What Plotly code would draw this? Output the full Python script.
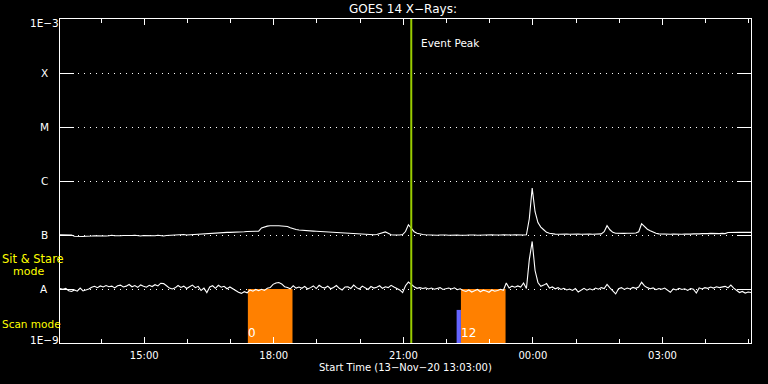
import math
import pandas as pd
import plotly.graph_objects as go

# ---------------- data ----------------
START = "2020-11-13 13:03"
END = "2020-11-14 05:03"

# GOES 1-8 A channel, units of 1e-8 W/m^2, 4-minute cadence from START
long_channel = [
    10.1, 10.1, 10.0, 10.1, 10.0, 9.5, 9.4, 9.3, 9.4, 9.5,
    9.4, 9.6, 9.7, 9.6, 9.8, 9.7, 9.6, 9.7, 9.9, 9.7,
    9.6, 9.7, 9.8, 9.7, 9.6, 9.8, 9.9, 9.7, 9.6, 9.8,
    9.7, 9.8, 9.6, 9.7, 9.9, 9.7, 9.6, 9.8, 9.9, 10.0,
    10.1, 10.0, 10.1, 10.2, 10.0, 10.1, 10.2, 10.1, 10.3, 10.4,
    10.6, 10.6, 10.7, 10.8, 10.9, 11.0, 11.1, 11.1, 11.2, 11.2,
    11.2, 11.3, 11.4, 11.5, 11.5, 11.6, 11.6, 11.7, 11.7, 11.8,
    13.5, 14.2, 14.6, 14.8, 14.9, 14.9, 14.8, 14.7, 14.6, 14.4,
    13.6, 12.9, 12.6, 12.4, 12.2, 12.1, 12.0, 11.9, 11.8, 11.7,
    11.6, 11.5, 11.4, 11.3, 11.2, 11.2, 11.1, 11.0, 10.9, 10.8,
    10.7, 10.6, 10.6, 10.5, 10.4, 10.3, 10.2, 10.2, 10.1, 10.1,
    10.2, 10.6, 11.2, 11.4, 10.8, 10.1, 10.0, 9.9, 10.0, 10.2,
    11.6, 15.5, 13.0, 11.5, 10.8, 10.4, 10.2, 10.1, 10.0, 10.1,
    10.0, 9.9, 10.0, 10.1, 10.0, 9.9, 10.0, 10.1, 10.0, 9.9,
    9.8, 9.9, 10.0, 10.1, 10.0, 9.9, 10.0, 10.1, 10.0, 10.0,
    10.1, 10.0, 9.9, 10.0, 10.1, 10.0, 9.9, 10.0, 10.1, 10.0,
    9.9, 10.0, 10.1, 20.0, 74.0, 27.0, 17.0, 14.0, 12.5, 11.2,
    10.8, 10.5, 10.4, 10.3, 10.4, 10.5, 10.4, 10.3, 10.4, 10.5,
    10.4, 10.3, 10.4, 10.5, 10.4, 10.3, 10.4, 10.4, 10.5, 11.5,
    14.9, 12.5, 11.2, 10.8, 10.7, 10.8, 10.7, 10.8, 10.7, 10.8,
    10.9, 11.5, 16.2, 14.5, 12.8, 12.0, 11.2, 10.8, 10.5, 10.4,
    10.3, 10.4, 10.3, 10.4, 10.3, 10.2, 10.3, 10.4, 10.3, 10.4,
    10.5, 10.4, 10.5, 10.6, 10.5, 10.6, 10.7, 10.6, 10.7, 10.6,
    10.7, 10.6, 11.1, 11.2, 11.2, 11.1, 11.2, 11.2, 11.1, 11.2,
    11.2,
]

# GOES 0.5-4 A channel, units of 1e-9 W/m^2, same cadence
short_channel = [
    10.2, 9.9, 10.3, 9.3, 9.0, 9.6, 9.1, 10.4, 9.2, 9.5,
    10.0, 10.8, 11.2, 10.6, 11.4, 10.9, 11.6, 11.0, 11.3, 10.5,
    11.5, 11.8, 10.9, 11.3, 12.1, 11.0, 11.6, 10.7, 11.9, 11.2,
    10.8, 11.7, 11.1, 12.0, 11.4, 12.8, 12.6, 11.5, 10.4, 10.0,
    10.5, 11.6, 10.7, 11.3, 10.2, 11.0, 11.8, 10.6, 11.2, 9.4,
    10.4, 8.6, 10.9, 11.5, 10.3, 11.7, 10.8, 11.2, 10.1, 10.9,
    10.0, 9.2, 8.7, 8.3, 8.9, 8.5, 9.6, 9.1, 9.8, 9.3,
    9.9, 9.4, 10.3, 10.6, 12.2, 12.9, 13.2, 12.4, 11.0, 10.7,
    10.1, 11.5, 10.4, 10.9, 10.3, 11.2, 10.0, 10.6, 11.4, 10.2,
    11.7, 10.8, 10.4, 11.3, 10.1, 10.7, 11.6, 10.3, 9.6, 10.9,
    11.0, 10.2, 11.8, 10.6, 10.0, 11.3, 10.5, 9.8, 11.1, 10.4,
    10.8, 11.5, 10.3, 11.0, 10.6, 11.7, 10.9, 10.2, 9.6, 8.6,
    11.5, 13.4, 12.0, 11.0, 10.3, 10.6, 10.2, 10.5, 10.0, 10.4,
    9.9, 10.3, 10.6, 9.8, 10.2, 10.4, 10.0, 10.5, 9.7, 10.1,
    9.4, 9.0, 9.6, 8.8, 9.3, 9.8, 8.9, 9.5, 9.2, 8.7,
    9.6, 9.1, 9.4, 9.9, 9.5, 12.9, 10.4, 11.3, 10.8, 11.4,
    10.9, 12.9, 10.2, 35.0, 76.0, 22.0, 13.2, 11.2, 11.8, 12.6,
    10.4, 10.9, 10.1, 10.6, 9.8, 10.3, 9.6, 10.0, 9.4, 10.2,
    8.8, 9.7, 10.3, 9.5, 10.1, 9.6, 10.4, 9.9, 10.6, 10.2,
    12.2, 10.5, 9.2, 8.1, 10.1, 10.6, 9.8, 10.4, 10.0, 10.7,
    10.3, 10.9, 13.3, 11.4, 10.6, 10.1, 10.5, 9.7, 10.2, 9.9,
    10.4, 9.5, 8.7, 10.0, 9.6, 10.3, 9.8, 10.1, 9.4, 10.2,
    9.9, 8.4, 10.5, 10.0, 10.6, 10.3, 10.9, 10.4, 11.0, 10.6,
    10.8, 11.2, 10.5, 11.8, 10.4, 9.3, 8.6, 9.0, 8.4, 8.8,
    8.6,
]

LONG_UNIT = 1e-8
SHORT_UNIT = 1e-9

level_vals = [1e-9, 1e-8, 1e-7, 1e-6, 1e-5, 1e-4, 1e-3]
level_labels = ["1E-9", "A", "B", "C", "M", "X", "1E-3"]

scan_starts = ["2020-11-13 17:24", "2020-11-13 22:20"]
scan_ends = ["2020-11-13 18:26", "2020-11-13 23:22"]
scan_labels = ["0", "12"]
scan_top = 1e-8

stare_starts = ["2020-11-13 22:14"]
stare_ends = ["2020-11-13 22:20"]
stare_top = 4.1e-9

event_peak = "2020-11-13 21:11"

# ---------------- layout geometry ----------------
W, H = 768, 384
L, R, T, B = 60, 17, 19, 41
PW, PH = W - L - R, H - T - B


def px(xp):
    return (xp - L) / PW


def py(yp):
    return (H - B - yp) / PH


FONT = "DejaVu Sans"
WHITE = "#ffffff"
YELLOW = "#ffff00"
ORANGE = "#ff8000"
BLUE = "#6464ff"
GREEN = "#99cc00"

times = pd.date_range(START, periods=len(long_channel), freq="4min")
ymin, ymax = level_vals[0], level_vals[-1]

fig = go.Figure()

for s, e in zip(scan_starts, scan_ends):
    fig.add_trace(go.Scatter(x=[s, s, e, e, s], y=[ymin, scan_top, scan_top, ymin, ymin],
                             mode="lines", fill="toself", fillcolor=ORANGE,
                             line=dict(width=0, color=ORANGE), hoverinfo="skip"))
for s, e in zip(stare_starts, stare_ends):
    fig.add_trace(go.Scatter(x=[s, s, e, e, s], y=[ymin, stare_top, stare_top, ymin, ymin],
                             mode="lines", fill="toself", fillcolor=BLUE,
                             line=dict(width=0, color=BLUE), hoverinfo="skip"))

fig.add_trace(go.Scatter(x=times, y=[v * LONG_UNIT for v in long_channel], mode="lines",
                         line=dict(color=WHITE, width=1.1)))
fig.add_trace(go.Scatter(x=times, y=[v * SHORT_UNIT for v in short_channel], mode="lines",
                         line=dict(color=WHITE, width=1.1)))

fig.add_trace(go.Scatter(x=[event_peak, event_peak], y=[ymin, ymax], mode="lines",
                         line=dict(color=GREEN, width=2)))

annotations = []
annotations.append(dict(text="GOES 14 X\u2212Rays:", xref="paper", yref="paper",
                        x=px(402.5), y=py(9.5), xanchor="center", yanchor="middle",
                        showarrow=False, font=dict(size=12, color=WHITE, family=FONT)))
annotations.append(dict(text="Event Peak", xref="x", yref="paper", x=event_peak,
                        y=py(42.5), xanchor="left", yanchor="middle", xshift=8,
                        showarrow=False, font=dict(size=10.5, color=WHITE, family=FONT)))
annotations.append(dict(text="Start Time (13\u2212Nov\u221220 13:03:00)", xref="paper", yref="paper",
                        x=px(405), y=py(367.5), xanchor="center", yanchor="middle",
                        showarrow=False, font=dict(size=10, color=WHITE, family=FONT)))
for i, (v, lab) in enumerate(zip(level_vals, level_labels)):
    shift = 0
    if i == 0:
        shift = 3
    elif i == len(level_vals) - 1:
        shift = -4
    annotations.append(dict(text=lab.replace("-", "\u2212"), xref="paper", yref="y",
                            x=px(44.3), y=math.log10(v), xanchor="center", yanchor="middle",
                            yshift=shift, showarrow=False,
                            font=dict(size=10.5, color=WHITE, family=FONT)))
annotations.append(dict(text="Sit & Stare", xref="paper", yref="paper", x=px(0), y=py(259),
                        xanchor="left", yanchor="middle", showarrow=False,
                        font=dict(size=11.5, color=YELLOW, family=FONT)))
annotations.append(dict(text="mode", xref="paper", yref="paper", x=px(11), y=py(271),
                        xanchor="left", yanchor="middle", showarrow=False,
                        font=dict(size=11, color=YELLOW, family=FONT)))
annotations.append(dict(text="Scan mode", xref="paper", yref="paper", x=px(0), y=py(324),
                        xanchor="left", yanchor="middle", showarrow=False,
                        font=dict(size=10.5, color=YELLOW, family=FONT)))
for s, lab in zip(scan_starts, scan_labels):
    annotations.append(dict(text=lab, xref="x", yref="paper", x=s, y=py(333),
                            xanchor="left", yanchor="middle", xshift=-2, showarrow=False,
                            font=dict(size=12, color=WHITE, family=FONT)))

fig.update_layout(
    width=W, height=H,
    margin=dict(l=L, r=R, t=T, b=B, pad=0),
    paper_bgcolor="black", plot_bgcolor="black",
    showlegend=False,
    font=dict(family=FONT, size=10, color=WHITE),
    annotations=annotations,
    xaxis=dict(
        type="date", range=[START, END],
        showline=True, linecolor=WHITE, linewidth=1, mirror="ticks",
        showgrid=False, zeroline=False,
        ticks="inside", ticklen=6, tickcolor=WHITE, tickwidth=1,
        dtick=3 * 3600000, tick0="2020-11-13 00:00", tickformat="%H:%M",
        tickfont=dict(size=10, color=WHITE, family=FONT),
        ticklabelstandoff=3,
        minor=dict(dtick=3600000, ticks="inside", ticklen=4, tickcolor=WHITE, tickwidth=1),
    ),
    yaxis=dict(
        type="log", range=[math.log10(ymin), math.log10(ymax)],
        showline=True, linecolor=WHITE, linewidth=1, mirror="ticks",
        tickvals=level_vals[1:-1], ticks="inside", ticklen=14, tickcolor=WHITE, tickwidth=1,
        showticklabels=False,
        showgrid=True, gridcolor=WHITE, gridwidth=1, griddash="1px,5px",
        zeroline=False,
    ),
)

fig.write_html("out.html")
